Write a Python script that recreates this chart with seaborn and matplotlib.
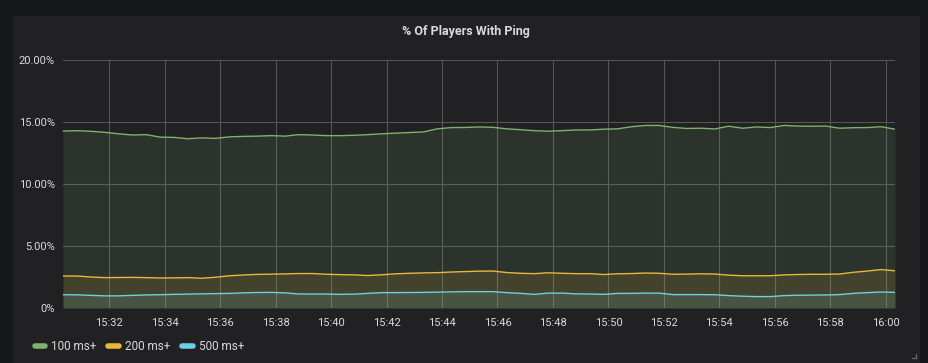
import seaborn as sns
import matplotlib.pyplot as plt
import matplotlib.dates as mdates
from matplotlib.patches import Rectangle
from matplotlib.lines import Line2D
import pandas as pd

# samples every 30 s, 15:30:20 -> 16:00:20
times = pd.date_range("2020-01-01 15:30:20", "2020-01-01 16:00:20", freq="30s")

ping_100 = [14.27, 14.30, 14.25, 14.17, 14.05, 13.95, 13.98, 13.78, 13.76, 13.65,
            13.72, 13.68, 13.80, 13.84, 13.86, 13.90, 13.86, 13.98, 13.95, 13.90,
            13.90, 13.93, 13.98, 14.05, 14.10, 14.15, 14.20, 14.45, 14.55, 14.56,
            14.60, 14.57, 14.45, 14.38, 14.30, 14.26, 14.30, 14.36, 14.36, 14.42,
            14.45, 14.62, 14.72, 14.72, 14.56, 14.48, 14.50, 14.44, 14.66, 14.50,
            14.60, 14.55, 14.72, 14.67, 14.66, 14.67, 14.50, 14.54, 14.55, 14.62,
            14.42]
ping_200 = [2.58, 2.58, 2.50, 2.45, 2.46, 2.47, 2.45, 2.42, 2.43, 2.45,
            2.40, 2.48, 2.60, 2.66, 2.71, 2.73, 2.75, 2.78, 2.78, 2.72,
            2.69, 2.67, 2.62, 2.68, 2.76, 2.80, 2.83, 2.85, 2.90, 2.94,
            2.97, 2.98, 2.86, 2.80, 2.77, 2.84, 2.80, 2.77, 2.77, 2.70,
            2.76, 2.78, 2.82, 2.80, 2.72, 2.73, 2.76, 2.74, 2.65, 2.60,
            2.60, 2.60, 2.67, 2.70, 2.72, 2.72, 2.74, 2.88, 2.98, 3.10,
            3.00]
ping_500 = [1.07, 1.06, 1.02, 0.98, 0.98, 1.02, 1.05, 1.07, 1.10, 1.12,
            1.14, 1.16, 1.18, 1.22, 1.25, 1.26, 1.22, 1.13, 1.13, 1.13,
            1.10, 1.12, 1.18, 1.24, 1.24, 1.25, 1.26, 1.28, 1.30, 1.32,
            1.32, 1.32, 1.24, 1.18, 1.10, 1.20, 1.20, 1.14, 1.13, 1.10,
            1.18, 1.18, 1.20, 1.20, 1.08, 1.08, 1.08, 1.07, 1.00, 0.95,
            0.92, 0.92, 1.00, 1.03, 1.04, 1.05, 1.08, 1.18, 1.24, 1.29,
            1.26]

series_names = ["100 ms+", "200 ms+", "500 ms+"]
colors = ["#7EB26D", "#EAB839", "#6ED0E0"]
y_ticks = [0, 5, 10, 15, 20]
y_labels = ["0%", "5.00%", "10.00%", "15.00%", "20.00%"]

df = pd.concat([
    pd.DataFrame({"time": times, "value": vals, "series": name})
    for name, vals in zip(series_names, [ping_100, ping_200, ping_500])
])

sns.set_theme(style="dark")
plt.rcParams["font.family"] = ["Roboto", "DejaVu Sans"]
text_col = "#d8d9da"

fig = plt.figure(figsize=(9.29, 3.63), dpi=100, facecolor="#161719")
fig.patches.append(Rectangle((13 / 929, 0), 907 / 929, 347 / 363,
                             transform=fig.transFigure, facecolor="#212124",
                             edgecolor="none", zorder=-10))
ax = fig.add_axes([63 / 929, 55 / 363, 832 / 929, 248 / 363])
ax.set_facecolor("none")

for name, col in zip(series_names, colors):
    sub = df[df["series"] == name]
    ax.fill_between(sub["time"], 0, sub["value"], color=col, alpha=0.12,
                    linewidth=0, zorder=2)

sns.lineplot(data=df, x="time", y="value", hue="series", palette=colors,
             hue_order=series_names, linewidth=1, legend=False, ax=ax, zorder=3)

ax.set_xlim(times[0], times[-1])
ax.set_ylim(0, 20)
ax.set_yticks(y_ticks)
ax.set_yticklabels(y_labels)
ax.xaxis.set_major_locator(mdates.MinuteLocator(byminute=range(0, 60, 2)))
ax.xaxis.set_major_formatter(mdates.DateFormatter("%H:%M"))
ax.tick_params(colors=text_col, labelsize=8, length=0, pad=6)
ax.tick_params(axis="x", pad=7)
ax.set_xlabel("")
ax.set_ylabel("")
ax.grid(True, color="#555555", linewidth=0.8)
ax.set_axisbelow(True)
for s in ax.spines.values():
    s.set_visible(False)

fig.text(466 / 929, 1 - 31 / 363, "% Of Players With Ping", color=text_col,
         fontsize=9, fontweight="bold", ha="center", va="center")

handles = [Line2D([], [], color=c, linewidth=4, solid_capstyle="round") for c in colors]
fig.legend(handles, series_names, loc="center left",
           bbox_to_anchor=(24 / 929, 1 - 347 / 363), ncol=3, frameon=False,
           fontsize=8.5, labelcolor=text_col, handlelength=0.9, handletextpad=0.5,
           columnspacing=1.0)

# small resize corner mark at bottom right of the panel
fig.add_artist(Line2D([912 / 929, 916 / 929, 916 / 929],
                      [1 - 358 / 363, 1 - 358 / 363, 1 - 354 / 363],
                      transform=fig.transFigure, color="#666666", linewidth=1))

fig.savefig("out.png", dpi=100, facecolor=fig.get_facecolor())
